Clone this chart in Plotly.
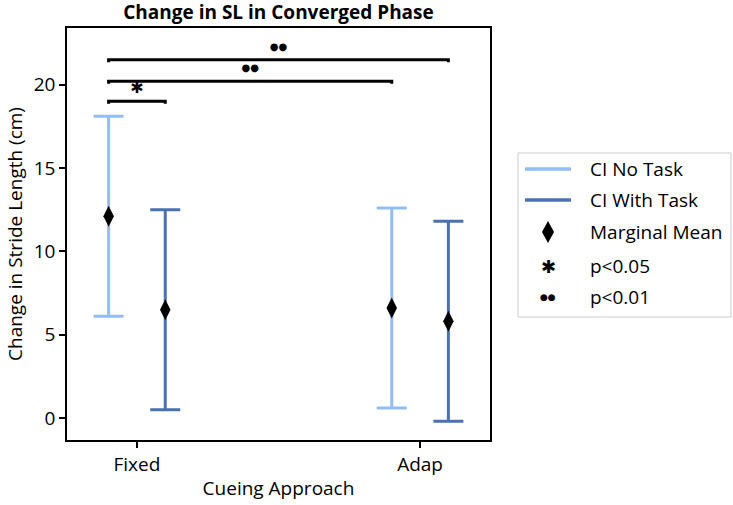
import plotly.graph_objects as go

# ---------------- data ----------------
categories = ["Fixed", "Adap"]
no_task_mean = [12.1, 6.6]
no_task_lo = [6.1, 0.6]
no_task_hi = [18.1, 12.6]
with_task_mean = [6.5, 5.8]
with_task_lo = [0.5, -0.2]
with_task_hi = [12.5, 11.8]

# significance brackets: (from group, from condition, to group, to condition, height, label)
sig_from = [(0, 0), (0, 0), (0, 0)]
sig_to = [(0, 1), (1, 0), (1, 1)]
sig_height = [19.0, 20.2, 21.5]
sig_label = ["p<0.05", "p<0.01", "p<0.01"]

legend_labels = ["CI No Task", "CI With Task", "Marginal Mean", "p<0.05", "p<0.01"]

# ---------------- style ----------------
LIGHT = "#92bdf6"
DARK = "#4a72b3"
FONT = "Open Sans"
FS = 19
W, H = 733, 505
ML, MR, MT, MB = 67, 243, 28, 65
OFF = 0.1
cond_offset = [-OFF, OFF]
sym = {"p<0.05": "✱", "p<0.01": "●●"}
sym_size = {"p<0.05": 16, "p<0.01": 10}
leg_sym_size = {"p<0.05": 18, "p<0.01": 9}

x_pos = list(range(len(categories)))

fig = go.Figure()

for ci, (mean, lo, hi, col) in enumerate([
    (no_task_mean, no_task_lo, no_task_hi, LIGHT),
    (with_task_mean, with_task_lo, with_task_hi, DARK),
]):
    fig.add_trace(go.Scatter(
        x=[x + cond_offset[ci] for x in x_pos],
        y=mean,
        mode="markers",
        marker=dict(symbol="diamond-tall", size=15, color="black"),
        error_y=dict(type="data", symmetric=False,
                     array=[h - m for h, m in zip(hi, mean)],
                     arrayminus=[m - l for m, l in zip(mean, lo)],
                     color=col, thickness=3, width=15),
        showlegend=False, hoverinfo="skip",
    ))

# brackets
tick = 0.15
for (g1, c1), (g2, c2), h, lab in zip(sig_from, sig_to, sig_height, sig_label):
    xa = g1 + cond_offset[c1]
    xb = g2 + cond_offset[c2]
    fig.add_trace(go.Scatter(
        x=[xa, xa, xb, xb], y=[h - tick, h, h, h - tick], mode="lines",
        line=dict(color="black", width=3), showlegend=False, hoverinfo="skip"))
    fig.add_trace(go.Scatter(
        x=[(xa + xb) / 2], y=[h + 0.75], mode="text", text=[sym[lab]],
        textfont=dict(family="DejaVu Sans", size=sym_size[lab], color="black"),
        textposition="middle center", showlegend=False, hoverinfo="skip"))

# ---------------- manual legend ----------------
pw = W - ML - MR
ph = H - MT - MB


def px_x(p):
    return (p - ML) / pw


def px_y(p):
    return (H - MB - p) / ph


shapes = []
annotations = []
shapes.append(dict(type="rect", xref="paper", yref="paper",
                   x0=px_x(518), x1=px_x(731), y0=px_y(317), y1=px_y(153),
                   line=dict(color="#cccccc", width=1), fillcolor="white", layer="below"))
row_y = [169, 200, 232, 266, 297]
sym_x = 548
text_x = 588
for i, lab in enumerate(legend_labels):
    yy = px_y(row_y[i])
    if i < 2:
        shapes.append(dict(type="line", xref="paper", yref="paper",
                           xsizemode="pixel", ysizemode="pixel",
                           xanchor=px_x(sym_x), yanchor=yy,
                           x0=-23, x1=23, y0=0, y1=0,
                           line=dict(color=[LIGHT, DARK][i], width=3.5)))
    elif i == 2:
        shapes.append(dict(type="path", xref="paper", yref="paper",
                           xsizemode="pixel", ysizemode="pixel",
                           xanchor=px_x(sym_x), yanchor=yy,
                           path="M 0 11 L 6 0 L 0 -11 L -6 0 Z",
                           fillcolor="black", line=dict(color="black", width=0)))
    else:
        annotations.append(dict(xref="paper", yref="paper", x=px_x(sym_x), y=yy,
                                text=sym[lab], showarrow=False,
                                xanchor="center", yanchor="middle",
                                font=dict(family="DejaVu Sans", size=leg_sym_size[lab], color="black")))
    annotations.append(dict(xref="paper", yref="paper", x=px_x(text_x), y=yy,
                            text=lab, showarrow=False, xanchor="left", yanchor="middle",
                            font=dict(family=FONT, size=FS, color="black")))

fig.update_layout(
    width=W, height=H,
    margin=dict(l=ML, r=MR, t=MT, b=MB, autoexpand=False),
    paper_bgcolor="white", plot_bgcolor="white",
    font=dict(family=FONT, size=FS, color="black"),
    title=dict(text="<b>Change in SL in Converged Phase</b>", x=0.5, xref="paper",
               y=1 - 12 / H, yref="container", yanchor="middle",
               font=dict(family=FONT, size=FS, color="black")),
    xaxis=dict(range=[-0.247, 1.247], tickvals=x_pos, ticktext=categories,
               showgrid=False, zeroline=False, showline=True, linecolor="black",
               linewidth=1.5, mirror=True, ticks="outside", ticklen=6, tickwidth=1.5,
               tickcolor="black", automargin=False,
               title=dict(text="Cueing Approach", standoff=6, font=dict(size=FS))),
    yaxis=dict(range=[-1.32, 23.4], tickvals=[0, 5, 10, 15, 20],
               showgrid=False, zeroline=False, showline=True, linecolor="black",
               linewidth=1.5, mirror=True, ticks="outside", ticklen=6, tickwidth=1.5,
               tickcolor="black", automargin=False,
               title=dict(text="Change in Stride Length (cm)", standoff=6, font=dict(size=FS))),
    shapes=shapes, annotations=annotations,
)

fig.write_html("out.html", config={"displayModeBar": False},
               post_script="document.body.style.margin='0';document.body.style.padding='0';")
